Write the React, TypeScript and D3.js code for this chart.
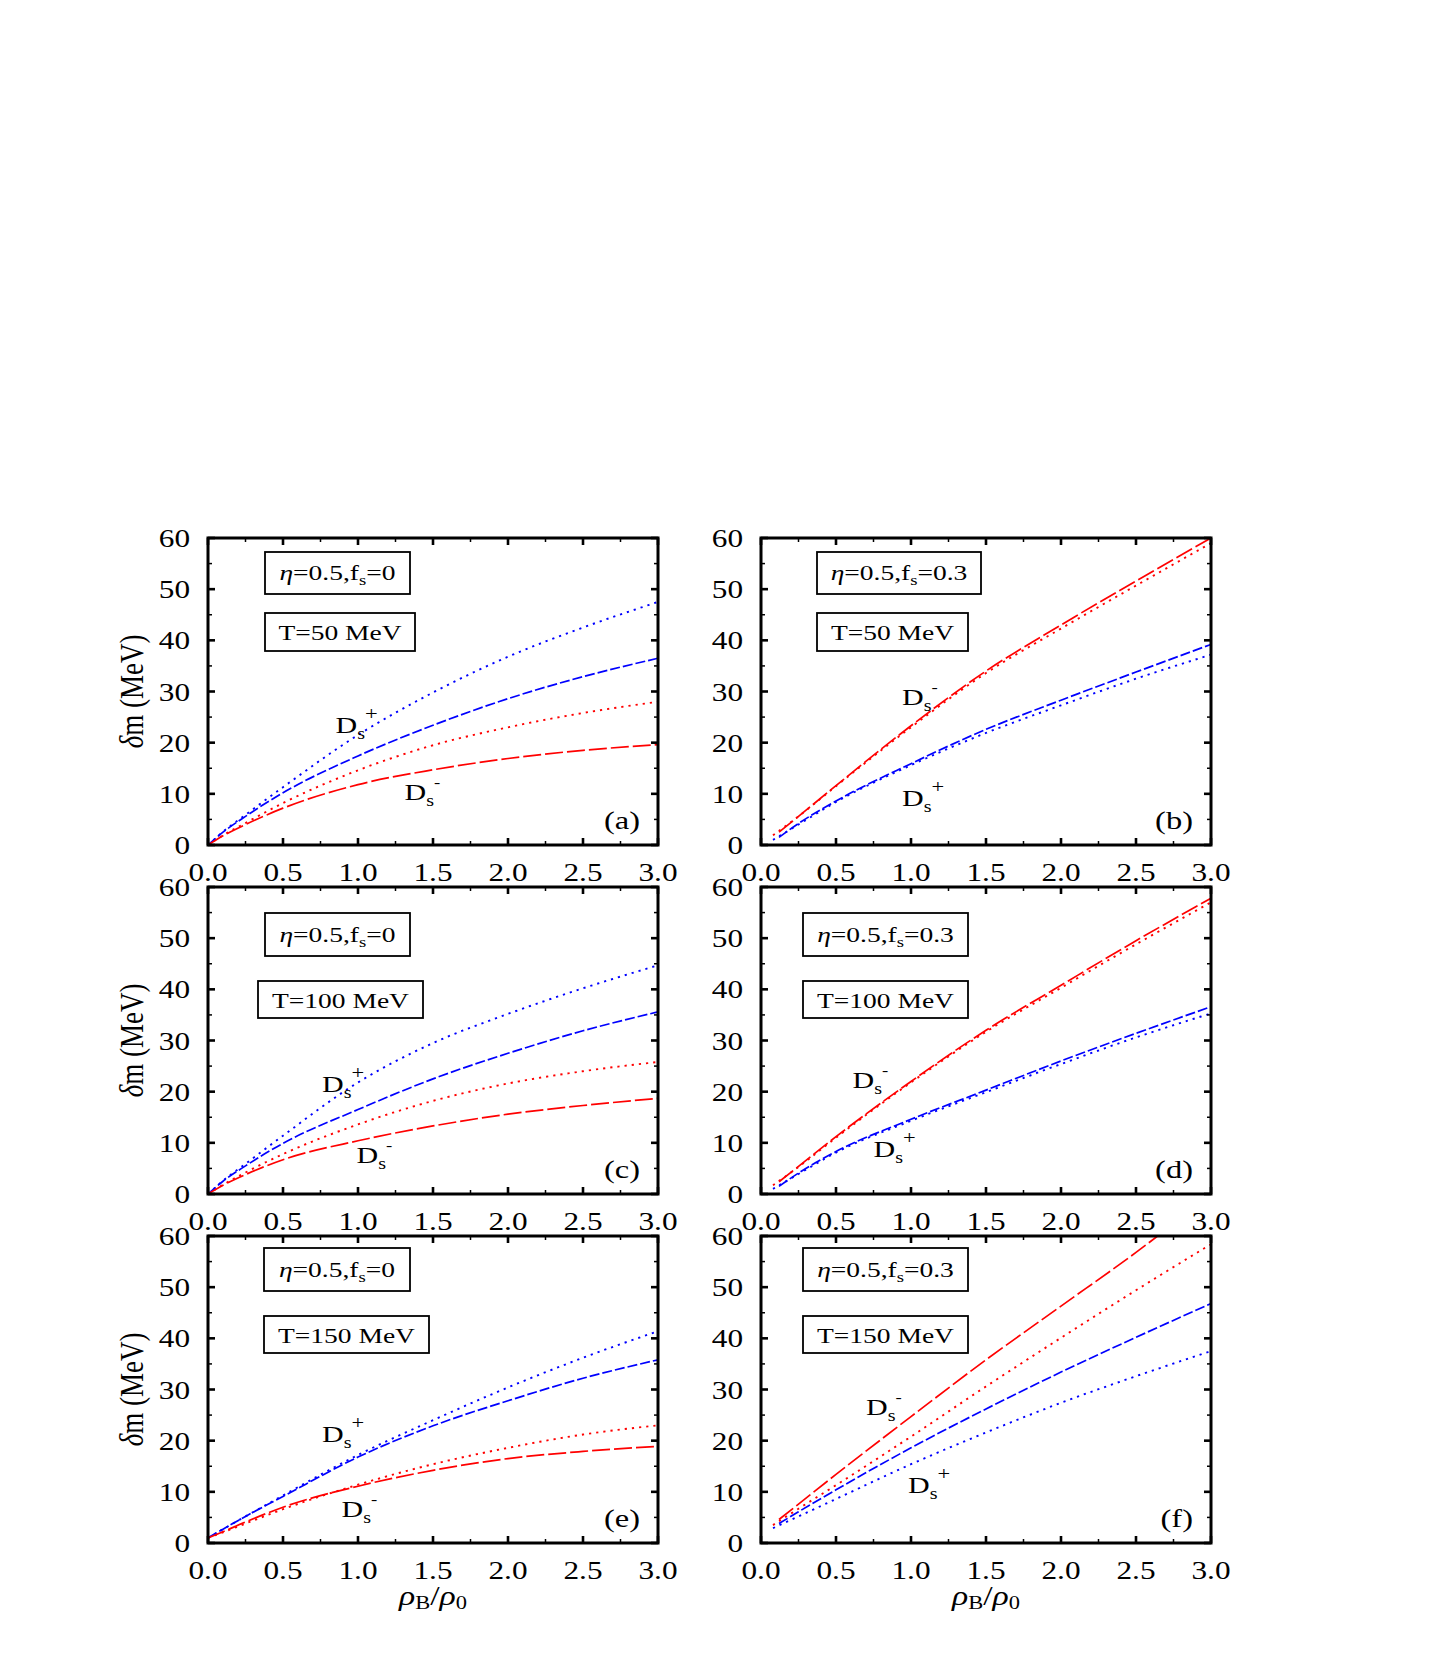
import React from "react";
import * as d3 from "d3";

// ---------- axis ticks ----------
const xTickValues = [0, 0.5, 1.0, 1.5, 2.0, 2.5, 3.0];
const xTickLabels = ["0.0", "0.5", "1.0", "1.5", "2.0", "2.5", "3.0"];
const xMinorTicks = [0.25, 0.75, 1.25, 1.75, 2.25, 2.75];
const yTickValues = [0, 10, 20, 30, 40, 50, 60];
const yTickLabels = ["0", "10", "20", "30", "40", "50", "60"];
const yMinorTicks = [5, 15, 25, 35, 45, 55];

// ---------- x grids (rho_B / rho_0) ----------
const xsFromZero = [0, 0.1, 0.25, 0.5, 1.0, 1.5, 2.0, 2.5, 3.0];
const xsDash = [0.12, 0.25, 0.5, 1.0, 1.5, 2.0, 2.5, 3.0];
const xsDot = [0.08, 0.25, 0.5, 1.0, 1.5, 2.0, 2.5, 3.0];
const xsFRedDash = [0.12, 0.25, 0.5, 1.0, 1.5, 2.0, 2.5, 2.64];

// ---------- panel (a): eta=0.5, fs=0, T=50 MeV ----------
const aBlueDot = [0, 2.6, 5.9, 11.3, 21.5, 29.8, 36.8, 42.5, 47.5];
const aBlueDash = [0, 2.5, 5.6, 10.2, 17.4, 23.4, 28.6, 32.9, 36.5];
const aRedDot = [0, 1.9, 4.3, 8.2, 14.6, 19.5, 23.0, 25.8, 28.0];
const aRedDash = [0, 1.8, 4.0, 7.2, 11.8, 14.7, 16.9, 18.5, 19.6];

// ---------- panel (b): eta=0.5, fs=0.3, T=50 MeV ----------
const bRedDash = [2.5, 5.6, 11.6, 23.3, 34.0, 43.0, 51.6, 60.0];
const bRedDot = [1.9, 5.6, 11.5, 23.0, 33.6, 42.3, 50.7, 59.0];
const bBlueDash = [1.5, 4.2, 8.6, 15.9, 22.6, 28.3, 33.8, 39.2];
const bBlueDot = [1.0, 4.0, 8.4, 15.6, 21.9, 27.3, 32.5, 37.2];

// ---------- panel (c): eta=0.5, fs=0, T=100 MeV ----------
const cBlueDot = [0, 2.6, 5.9, 11.4, 21.8, 29.5, 35.2, 40.2, 44.7];
const cBlueDash = [0, 2.5, 5.5, 9.9, 16.5, 22.5, 27.5, 31.9, 35.6];
const cRedDot = [0, 1.8, 4.2, 7.8, 13.6, 18.2, 21.6, 24.0, 25.8];
const cRedDash = [0, 1.7, 3.8, 6.7, 10.4, 13.3, 15.6, 17.3, 18.7];

// ---------- panel (d): eta=0.5, fs=0.3, T=100 MeV ----------
const dRedDash = [2.4, 5.4, 11.2, 22.0, 32.0, 40.8, 49.5, 57.8];
const dRedDot = [1.7, 5.3, 11.0, 21.8, 31.7, 40.3, 48.8, 57.0];
const dBlueDash = [1.5, 4.1, 8.3, 14.6, 20.3, 26.0, 31.4, 36.6];
const dBlueDot = [1.0, 3.9, 8.1, 14.3, 19.9, 25.4, 30.6, 35.3];

// ---------- panel (e): eta=0.5, fs=0, T=150 MeV ----------
const eBlueDot = [1.0, 2.7, 5.2, 9.3, 17.2, 24.0, 30.4, 36.2, 41.4];
const eBlueDash = [1.0, 2.7, 5.2, 9.1, 16.8, 22.9, 27.8, 32.2, 35.8];
const eRedDot = [1.0, 2.1, 3.8, 6.6, 11.4, 15.4, 18.6, 21.2, 23.0];
const eRedDash = [1.0, 2.2, 4.1, 7.0, 11.1, 14.2, 16.5, 17.9, 18.9];

// ---------- panel (f): eta=0.5, fs=0.3, T=150 MeV ----------
const fRedDash = [4.6, 7.6, 13.4, 24.7, 35.8, 46.3, 56.8, 59.9];
const fRedDot = [3.5, 6.7, 11.3, 20.8, 30.6, 40.1, 49.4, 58.4];
const fBlueDash = [3.8, 6.1, 10.4, 18.6, 26.2, 33.4, 40.2, 46.8];
const fBlueDot = [2.9, 5.2, 8.6, 15.4, 21.6, 27.4, 32.6, 37.5];

// ---------- annotation anchors (data coords: D left edge, baseline) ----------
const labelPlus = [[0.85, 21.9], [0.94, 7.6], [0.76, 20.0], [0.75, 7.3], [0.76, 19.8], [0.98, 9.8]];
const labelMinus = [[1.31, 8.8], [0.94, 27.4], [0.99, 6.0], [0.61, 20.8], [0.89, 5.1], [0.70, 25.0]];

const panelTags = ["(a)", "(b)", "(c)", "(d)", "(e)", "(f)"];
const fsValues = ["0", "0.3", "0", "0.3", "0", "0.3"];
const tempValues = ["50", "50", "100", "100", "150", "150"];

type Series = { xs: number[]; ys: number[]; color: string; kind: "dash" | "dot" };

const RED = "#ff0000";
const BLUE = "#0000ff";

const panelSeries: Series[][] = [
  [
    { xs: xsFromZero, ys: aBlueDot, color: BLUE, kind: "dot" },
    { xs: xsFromZero, ys: aRedDot, color: RED, kind: "dot" },
    { xs: xsFromZero, ys: aBlueDash, color: BLUE, kind: "dash" },
    { xs: xsFromZero, ys: aRedDash, color: RED, kind: "dash" },
  ],
  [
    { xs: xsDot, ys: bRedDot, color: RED, kind: "dot" },
    { xs: xsDot, ys: bBlueDot, color: BLUE, kind: "dot" },
    { xs: xsDash, ys: bRedDash, color: RED, kind: "dash" },
    { xs: xsDash, ys: bBlueDash, color: BLUE, kind: "dash" },
  ],
  [
    { xs: xsFromZero, ys: cBlueDot, color: BLUE, kind: "dot" },
    { xs: xsFromZero, ys: cRedDot, color: RED, kind: "dot" },
    { xs: xsFromZero, ys: cBlueDash, color: BLUE, kind: "dash" },
    { xs: xsFromZero, ys: cRedDash, color: RED, kind: "dash" },
  ],
  [
    { xs: xsDot, ys: dRedDot, color: RED, kind: "dot" },
    { xs: xsDot, ys: dBlueDot, color: BLUE, kind: "dot" },
    { xs: xsDash, ys: dRedDash, color: RED, kind: "dash" },
    { xs: xsDash, ys: dBlueDash, color: BLUE, kind: "dash" },
  ],
  [
    { xs: xsFromZero, ys: eBlueDot, color: BLUE, kind: "dot" },
    { xs: xsFromZero, ys: eRedDot, color: RED, kind: "dot" },
    { xs: xsFromZero, ys: eBlueDash, color: BLUE, kind: "dash" },
    { xs: xsFromZero, ys: eRedDash, color: RED, kind: "dash" },
  ],
  [
    { xs: xsDot, ys: fRedDot, color: RED, kind: "dot" },
    { xs: xsDot, ys: fBlueDot, color: BLUE, kind: "dot" },
    { xs: xsFRedDash, ys: fRedDash, color: RED, kind: "dash" },
    { xs: xsDash, ys: fBlueDash, color: BLUE, kind: "dash" },
  ],
];

// ---------- layout ----------
const COLS = [208, 761];
const ROWS = [538, 887, 1236];
const PW = 450;
const PH = 307;
const SX = 1.25;
const FONT = "'Liberation Serif','Times New Roman',Times,serif";
// boxes relative to panel origin: [x0, x1, y0, y1]
const box1Layout = [
  [57, 202, 14, 56], [56, 220, 14, 56],
  [57, 202, 26, 69], [42, 207, 26, 69],
  [56, 202, 12, 55], [42, 207, 12, 55],
];
const box2Layout = [
  [57, 207, 75, 113], [56, 207, 75, 113],
  [50, 215, 94, 131], [42, 207, 94, 131],
  [56, 221, 80, 117], [42, 207, 80, 117],
];

function ST(props: { x: number; y: number; anchor?: string; size?: number; rotate?: boolean; children: any }) {
  const { x, y, anchor = "start", size = 23, rotate = false, children } = props;
  const tf = `translate(${x},${y}) scale(${SX},1)` + (rotate ? " rotate(-90)" : "");
  return (
    <text transform={tf} textAnchor={anchor} fontSize={size} fontFamily={FONT} fill="#000">
      {children}
    </text>
  );
}

function DsLabel(props: { x: number; y: number; sign: string }) {
  const { x, y, sign } = props;
  return (
    <ST x={x} y={y} size={24}>
      <tspan>D</tspan>
      <tspan fontSize={16} dy={6}>s</tspan>
      <tspan fontSize={sign === "+" ? 18 : 15} dy={-19}>{sign === "+" ? "+" : "-"}</tspan>
    </ST>
  );
}

function Panel(props: { idx: number }) {
  const { idx } = props;
  const left = COLS[idx % 2];
  const top = ROWS[Math.floor(idx / 2)];
  const x = d3.scaleLinear().domain([0, 3]).range([left, left + PW]);
  const y = d3.scaleLinear().domain([0, 60]).range([top + PH, top]);
  const line = d3
    .line<[number, number]>()
    .x((d) => x(d[0]))
    .y((d) => y(d[1]))
    .curve(d3.curveMonotoneX);
  const clipId = `clip-${idx}`;
  const b1 = box1Layout[idx];
  const b2 = box2Layout[idx];
  const bottom = top + PH;
  const right = left + PW;
  const isLeft = idx % 2 === 0;
  const isBottom = Math.floor(idx / 2) === 2;

  return (
    <g>
      <defs>
        <clipPath id={clipId}>
          <rect x={left} y={top} width={PW} height={PH} />
        </clipPath>
      </defs>
      <g clipPath={`url(#${clipId})`}>
        {panelSeries[idx].map((s, i) => (
          <path
            key={i}
            d={line(s.xs.map((xv, k) => [xv, s.ys[k]] as [number, number])) || ""}
            fill="none"
            stroke={s.color}
            strokeWidth={s.kind === "dot" ? 1.9 : 1.7}
            strokeDasharray={
              s.kind === "dot" ? "2.2 5" : s.color === RED ? "18 4" : "10 3"
            }
          />
        ))}
      </g>
      {/* ticks */}
      {xTickValues.map((t) => (
        <g key={"xt" + t}>
          <line x1={x(t)} x2={x(t)} y1={bottom} y2={bottom - 7} stroke="#000" strokeWidth={2.6} />
          <line x1={x(t)} x2={x(t)} y1={top} y2={top + 7} stroke="#000" strokeWidth={2.6} />
        </g>
      ))}
      {xMinorTicks.map((t) => (
        <g key={"xm" + t}>
          <line x1={x(t)} x2={x(t)} y1={bottom} y2={bottom - 4} stroke="#000" strokeWidth={1.5} />
          <line x1={x(t)} x2={x(t)} y1={top} y2={top + 4} stroke="#000" strokeWidth={1.5} />
        </g>
      ))}
      {yTickValues.map((t) => (
        <g key={"yt" + t}>
          <line x1={left} x2={left + 7} y1={y(t)} y2={y(t)} stroke="#000" strokeWidth={2.6} />
          <line x1={right} x2={right - 7} y1={y(t)} y2={y(t)} stroke="#000" strokeWidth={2.6} />
        </g>
      ))}
      {yMinorTicks.map((t) => (
        <g key={"ym" + t}>
          <line x1={left} x2={left + 4} y1={y(t)} y2={y(t)} stroke="#000" strokeWidth={1.5} />
          <line x1={right} x2={right - 4} y1={y(t)} y2={y(t)} stroke="#000" strokeWidth={1.5} />
        </g>
      ))}
      <rect x={left} y={top} width={PW} height={PH} fill="none" stroke="#000" strokeWidth={3} />
      {/* tick labels */}
      {xTickValues.map((t, i) => (
        <ST key={"xl" + t} x={x(t)} y={bottom + 36} anchor="middle" size={25}>
          {xTickLabels[i]}
        </ST>
      ))}
      {yTickValues.map((t, i) => (
        <ST key={"yl" + t} x={left - 18} y={y(t) + 9} anchor="end" size={25}>
          {yTickLabels[i]}
        </ST>
      ))}
      {/* parameter boxes */}
      <rect x={left + b1[0]} y={top + b1[2]} width={b1[1] - b1[0]} height={b1[3] - b1[2]} fill="#fff" stroke="#000" strokeWidth={1.8} />
      <ST x={left + (b1[0] + b1[1]) / 2} y={top + (b1[2] + b1[3]) / 2 + 7} anchor="middle" size={22}>
        <tspan fontStyle="italic">η</tspan>
        <tspan>=0.5,f</tspan>
        <tspan fontSize={15} dy={5}>s</tspan>
        <tspan dy={-5}>={fsValues[idx]}</tspan>
      </ST>
      <rect x={left + b2[0]} y={top + b2[2]} width={b2[1] - b2[0]} height={b2[3] - b2[2]} fill="#fff" stroke="#000" strokeWidth={1.8} />
      <ST x={left + (b2[0] + b2[1]) / 2} y={top + (b2[2] + b2[3]) / 2 + 8} anchor="middle" size={22}>
        {`T=${tempValues[idx]} MeV`}
      </ST>
      {/* curve labels */}
      <DsLabel x={x(labelPlus[idx][0])} y={y(labelPlus[idx][1])} sign="+" />
      <DsLabel x={x(labelMinus[idx][0])} y={y(labelMinus[idx][1])} sign="-" />
      {/* panel tag */}
      <ST x={right - 18} y={bottom - 16} anchor="end" size={26}>
        {panelTags[idx]}
      </ST>
      {isLeft && (
        <ST x={143} y={top + PH / 2} anchor="middle" size={27} rotate>
          <tspan fontStyle="italic">δ</tspan>
          <tspan>m (MeV)</tspan>
        </ST>
      )}
      {isBottom && (
        <ST x={left + PW / 2} y={bottom + 62} anchor="middle" size={27}>
          <tspan fontStyle="italic">ρ</tspan>
          <tspan fontSize={18} dy={4}>B</tspan>
          <tspan dy={-4}>/</tspan>
          <tspan fontStyle="italic">ρ</tspan>
          <tspan fontSize={18} dy={4}>0</tspan>
        </ST>
      )}
    </g>
  );
}

export default function App() {
  return (
    <svg
      width={1449}
      height={1656}
      style={{ position: "absolute", left: 0, top: 0, background: "#fff" }}
    >
      <rect x={0} y={0} width={1449} height={1656} fill="#fff" />
      {[0, 1, 2, 3, 4, 5].map((i) => (
        <Panel key={i} idx={i} />
      ))}
    </svg>
  );
}
